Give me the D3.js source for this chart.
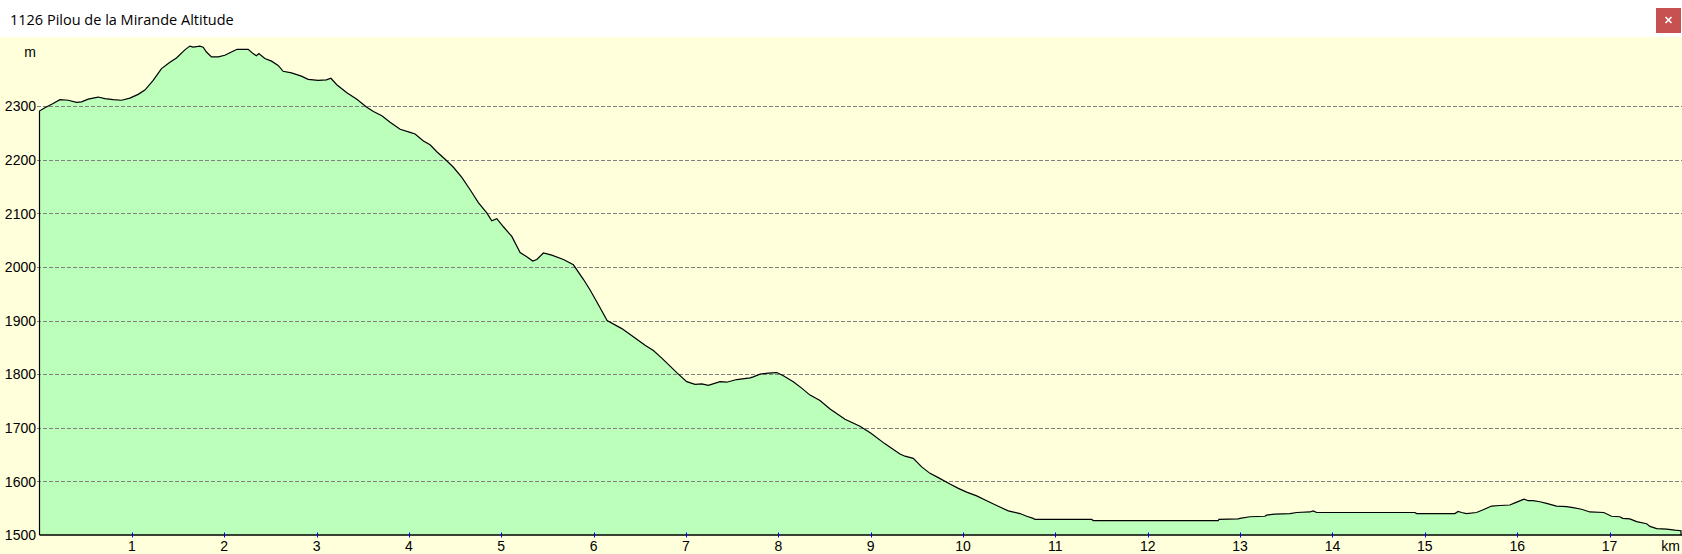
<!DOCTYPE html>
<html>
<head>
  <meta charset="utf-8">
  <script src="https://d3js.org/d3.v7.min.js"></script>
  <style>
    body { margin: 0; overflow: hidden; background: #ffffff; }
    svg { display: block; }
  </style>
</head>
<body>
<script type="text/javascript">

/*************************************************************************************************/
/* Data */

var title_text = "1126 Pilou de la Mirande Altitude";

var distance_km = [
  0.00, 0.058, 0.148, 0.221, 0.311, 0.401, 0.455, 0.527, 0.635, 0.708, 0.798, 0.888, 0.979,
  1.068, 1.141, 1.231, 1.321, 1.412, 1.483, 1.574, 1.628, 1.664, 1.736, 1.772, 1.808, 1.862, 1.935,
  2.007, 2.078, 2.140, 2.259, 2.313, 2.349, 2.375, 2.440, 2.512, 2.584, 2.638, 2.728, 2.836, 2.909,
  3.017, 3.107, 3.155, 3.219, 3.328, 3.436, 3.544, 3.616, 3.707, 3.796, 3.905,
  4.013, 4.067, 4.157, 4.229, 4.302, 4.392, 4.482, 4.573, 4.663, 4.752, 4.843, 4.897, 4.952,
  5.023, 5.114, 5.204, 5.276, 5.341, 5.385, 5.456, 5.547, 5.673, 5.781, 5.889, 5.962,
  6.070, 6.146, 6.305, 6.430, 6.557, 6.647, 6.738, 6.828, 6.900,
  7.008, 7.098, 7.171, 7.242, 7.369, 7.441, 7.550, 7.694, 7.729, 7.802, 7.892, 7.983,
  8.054, 8.162, 8.253, 8.343, 8.451, 8.560, 8.722, 8.884,
  9.003, 9.155, 9.317, 9.371, 9.461, 9.552, 9.642, 9.732, 9.858, 9.949,
  10.039, 10.148, 10.256, 10.364, 10.490, 10.616, 10.689, 10.760, 10.779,
  11.393, 11.410, 12.763, 12.771, 12.980, 12.998,
  13.106, 13.268, 13.287, 13.377, 13.540, 13.612, 13.756, 13.792, 13.829,
  14.893, 14.911, 15.326, 15.361, 15.398, 15.452, 15.560, 15.632, 15.723, 15.813, 15.921, 15.975,
  16.048, 16.076, 16.119, 16.173, 16.246, 16.318, 16.426, 16.535, 16.606, 16.697, 16.787, 16.938,
  17.022, 17.112, 17.143, 17.220, 17.294, 17.402, 17.438, 17.511, 17.619, 17.709, 17.774
];

var altitude_m = [
  2291, 2297, 2305, 2312, 2311, 2307, 2308, 2313, 2317, 2314, 2312, 2311, 2315,
  2322, 2330, 2348, 2370, 2382, 2390, 2405, 2412, 2410, 2412, 2410, 2401, 2392, 2392,
  2395, 2401, 2406, 2406, 2398, 2394, 2398, 2389, 2384, 2376, 2365, 2362, 2356, 2350,
  2348, 2349, 2352, 2340, 2325, 2313, 2298, 2290, 2282, 2270, 2257,
  2251, 2248, 2235, 2228, 2215, 2201, 2186, 2167, 2144, 2120, 2101, 2086, 2090,
  2075, 2057, 2027, 2019, 2011, 2014, 2026, 2022, 2014, 2004, 1977, 1957,
  1924, 1900, 1885, 1870, 1854, 1844, 1830, 1815, 1803,
  1786, 1781, 1782, 1779, 1786, 1785, 1790, 1793, 1795, 1800, 1802, 1803,
  1797, 1786, 1774, 1761, 1751, 1735, 1716, 1703,
  1690, 1670, 1651, 1647, 1643, 1627, 1615, 1607, 1595, 1587,
  1580, 1573, 1564, 1555, 1545, 1540, 1535, 1531, 1529,
  1529, 1527, 1527, 1529, 1530, 1531,
  1534, 1535, 1537, 1539, 1540, 1542, 1543, 1545, 1542,
  1542, 1540, 1540, 1544, 1542, 1540, 1542, 1547, 1554, 1555, 1556, 1560,
  1565, 1567, 1564, 1564, 1562, 1559, 1554, 1553, 1551, 1548, 1543, 1542,
  1535, 1534, 1531, 1530, 1525, 1521, 1516, 1512, 1511, 1509, 1508
];

var y_ticks = [1500, 1600, 1700, 1800, 1900, 2000, 2100, 2200, 2300];
var x_ticks = [1, 2, 3, 4, 5, 6, 7, 8, 9, 10, 11, 12, 13, 14, 15, 16, 17];
var y_unit = "m";
var x_unit = "km";

/*************************************************************************************************/
/* Layout */

var w = 1682;
var h = 554;
var bar_h = 37;

var plot_left = 39.5,
    plot_right = 1681,
    plot_top = 37,
    plot_bottom = 535;

var bg_color = "#ffffdc";
var fill_color = "#bbffbb";
var grid_color = "#808080";
var tick_color = "#0000ff";
var label_font = "'Liberation Sans', Arial, sans-serif";

var svg = d3.select("body")
            .append("svg")
            .attr("width", w)
            .attr("height", h);

var x = d3.scaleLinear()
          .domain([0, d3.max(distance_km)])
          .range([plot_left, plot_right]);

var y = d3.scaleLinear()
          .domain([1500, 2429])
          .range([plot_bottom, plot_top]);

/*************************************************************************************************/
/* Window title bar */

svg.append("rect")
   .attr("x", 0).attr("y", 0)
   .attr("width", w).attr("height", bar_h)
   .style("fill", "#ffffff");

svg.append("text")
   .attr("x", 10)
   .attr("y", 25)
   .text(title_text)
   .style("font-family", "'Open Sans', 'Noto Sans', sans-serif")
   .style("font-size", "14.5px")
   .style("fill", "#000000");

var close_btn = svg.append("g").attr("class", "close_btn");

close_btn.append("rect")
   .attr("x", 1656).attr("y", 8)
   .attr("width", 25).attr("height", 25)
   .style("fill", "#c75050");

close_btn.append("path")
   .attr("d", "M1665.5,17L1671.5,23M1671.5,17L1665.5,23")
   .style("stroke", "#ffffff")
   .style("stroke-width", 1.6)
   .style("fill", "none");

/*************************************************************************************************/
/* Plot background and profile */

svg.append("rect")
   .attr("x", 0).attr("y", bar_h)
   .attr("width", w).attr("height", h - bar_h)
   .style("fill", bg_color);

var profile = distance_km.map(function(d, i) { return [d, altitude_m[i]]; });

var area = d3.area()
             .x(function(d) { return x(d[0]); })
             .y0(y(1500))
             .y1(function(d) { return y(d[1]); });

svg.append("path")
   .datum(profile)
   .attr("d", area)
   .style("fill", fill_color)
   .style("stroke", "none");

var outline = [[0, 1500]].concat(profile).concat([[d3.max(distance_km), 1500]]);

var line = d3.line()
             .x(function(d) { return x(d[0]); })
             .y(function(d) { return y(d[1]); });

/* grid lines sit on top of the fill */
svg.append("g")
   .attr("class", "grid")
   .selectAll("line")
   .data(y_ticks.slice(1))
   .enter()
   .append("line")
   .attr("x1", 37)
   .attr("x2", w)
   .attr("y1", function(d) { return Math.round(y(d)) + 0.5; })
   .attr("y2", function(d) { return Math.round(y(d)) + 0.5; })
   .style("stroke", grid_color)
   .style("stroke-width", 1)
   .style("stroke-dasharray", "4,2");

svg.append("path")
   .datum(outline)
   .attr("d", line)
   .style("fill", "none")
   .style("stroke", "#000000")
   .style("stroke-width", 1.2);

/*************************************************************************************************/
/* Axes */

svg.append("line")
   .attr("x1", plot_left).attr("x2", w)
   .attr("y1", plot_bottom).attr("y2", plot_bottom)
   .style("stroke", "#000000")
   .style("stroke-width", 1.5);

svg.append("g")
   .attr("class", "x_ticks")
   .selectAll("line")
   .data(x_ticks)
   .enter()
   .append("line")
   .attr("x1", function(d) { return Math.round(x(d)) + 0.5; })
   .attr("x2", function(d) { return Math.round(x(d)) + 0.5; })
   .attr("y1", plot_bottom - 2.5)
   .attr("y2", plot_bottom + 2.5)
   .style("stroke", tick_color)
   .style("stroke-width", 1);

svg.append("g")
   .attr("class", "x_labels")
   .selectAll("text")
   .data(x_ticks)
   .enter()
   .append("text")
   .attr("x", function(d) { return x(d); })
   .attr("y", 550.5)
   .attr("text-anchor", "middle")
   .text(function(d) { return d; })
   .style("font-family", label_font)
   .style("font-size", "14px")
   .style("fill", "#000000");

svg.append("g")
   .attr("class", "y_labels")
   .selectAll("text")
   .data(y_ticks)
   .enter()
   .append("text")
   .attr("x", 36)
   .attr("y", function(d) { return y(d) + 5.2; })
   .attr("text-anchor", "end")
   .text(function(d) { return d; })
   .style("font-family", label_font)
   .style("font-size", "14px")
   .style("fill", "#000000");

svg.append("text")
   .attr("x", 36)
   .attr("y", 57)
   .attr("text-anchor", "end")
   .text(y_unit)
   .style("font-family", label_font)
   .style("font-size", "14px")
   .style("fill", "#000000");

svg.append("text")
   .attr("x", 1680)
   .attr("y", 550.5)
   .attr("text-anchor", "end")
   .text(x_unit)
   .style("font-family", label_font)
   .style("font-size", "14px")
   .style("fill", "#000000");

</script>
</body>
</html>
